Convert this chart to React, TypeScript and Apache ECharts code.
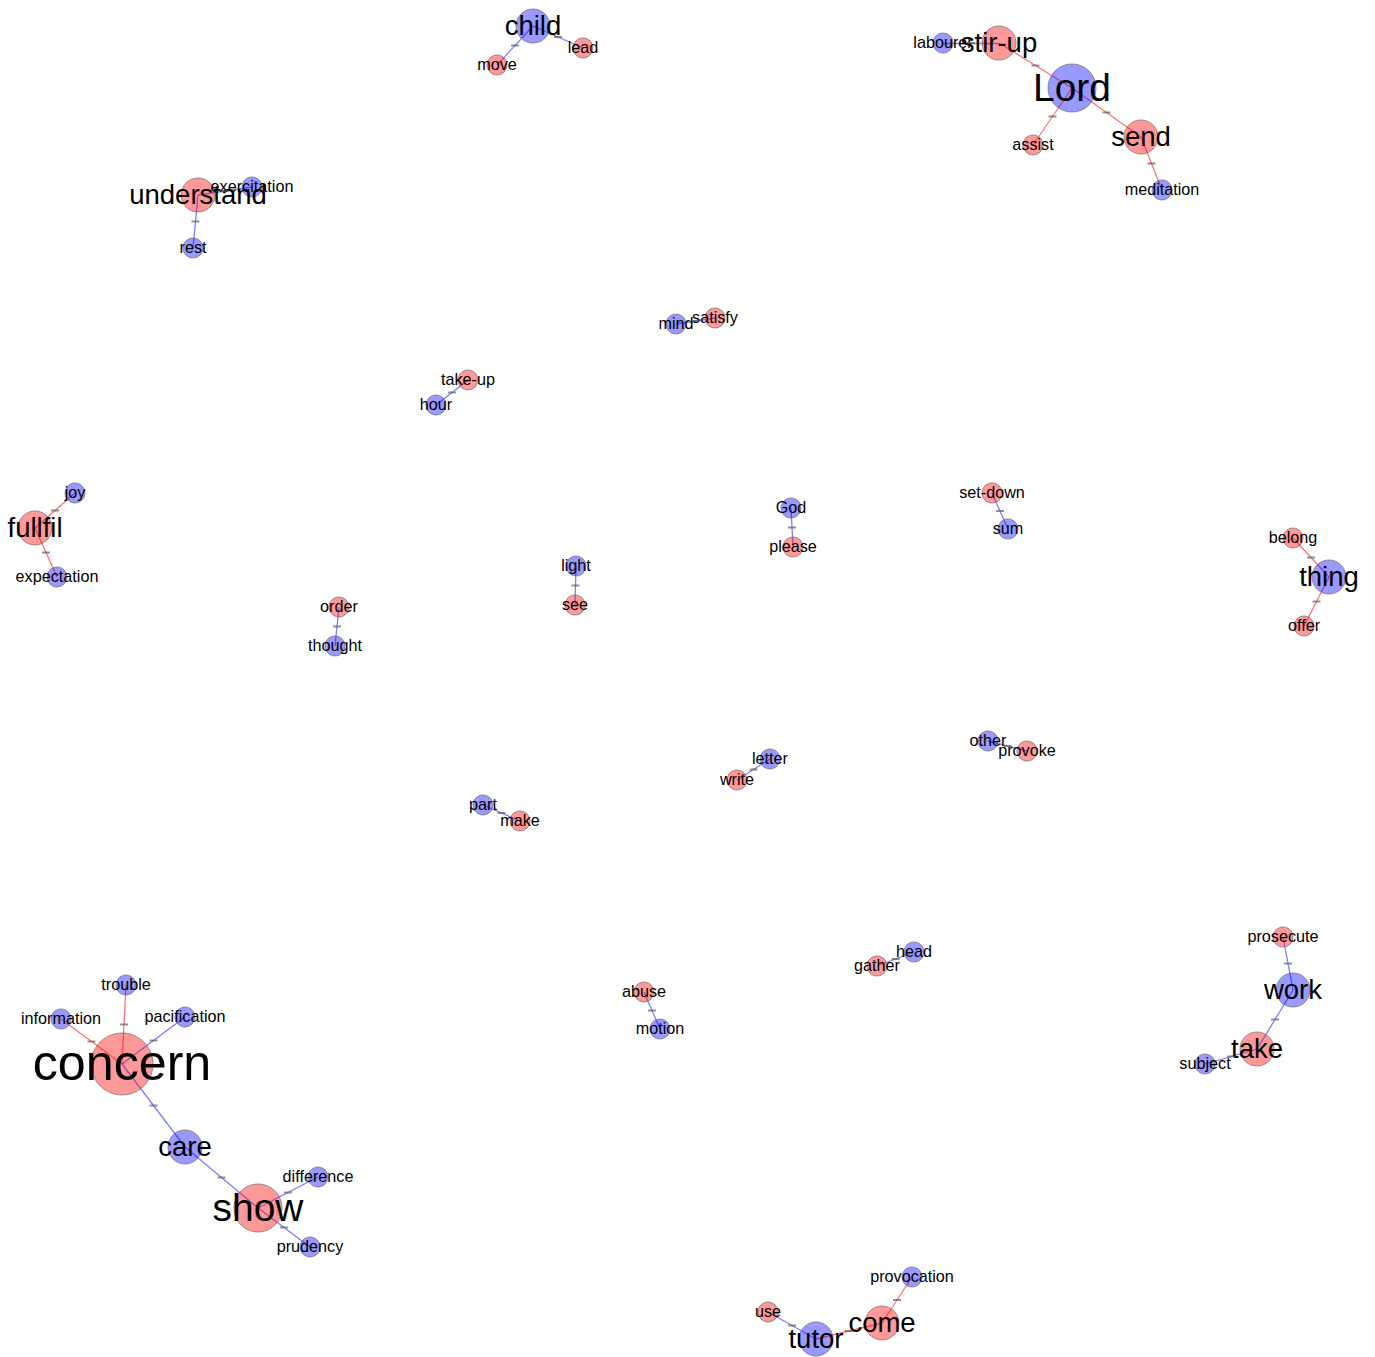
import React, { useEffect, useRef } from "react";
import * as echarts from "echarts";

const nodeNames = [
  "concern", "trouble", "information", "pacification", "care", "show", "difference", "prudency",
  "labourer", "stir-up", "Lord", "assist", "send", "meditation",
  "use", "tutor", "come", "provocation",
  "prosecute", "work", "take", "subject",
  "child", "move", "lead",
  "understand", "exercitation", "rest",
  "fullfil", "joy", "expectation",
  "belong", "thing", "offer",
  "mind", "satisfy", "take-up", "hour", "God", "please", "set-down", "sum",
  "order", "thought", "light", "see", "letter", "write", "other", "provoke",
  "part", "make", "head", "gather", "abuse", "motion",
];
const nodeX = [
  122, 126, 61, 185, 185, 258, 318, 310,
  943, 999, 1072, 1033, 1141, 1162,
  768, 816, 882, 912,
  1283, 1293, 1257, 1205,
  533, 497, 583,
  198, 252, 193,
  35, 75, 57,
  1293, 1329, 1304,
  676, 715, 468, 436, 791, 793, 992, 1008,
  339, 335, 576, 575, 770, 737, 988, 1027,
  483, 520, 914, 877, 644, 660,
];
const nodeY = [
  1064, 985, 1019, 1017, 1147, 1208, 1177, 1247,
  43, 43, 88, 145, 137, 190,
  1312, 1339, 1323, 1277,
  937, 990, 1049, 1064,
  26, 65, 48,
  195, 187, 248,
  528, 493, 577,
  538, 577, 626,
  324, 318, 380, 405, 508, 547, 493, 529,
  607, 646, 566, 605, 759, 780, 741, 751,
  805, 821, 952, 966, 992, 1029,
];
const nodeSizes = [
  62, 20, 20, 20, 34, 48, 20, 20,
  20, 34, 48, 20, 34, 20,
  20, 34, 34, 20,
  20, 34, 34, 20,
  34, 20, 20,
  34, 20, 20,
  34, 20, 20,
  20, 34, 20,
  20, 20, 20, 20, 20, 20, 20, 20,
  20, 20, 20, 20, 20, 20, 20, 20,
  20, 20, 20, 20, 20, 20,
];
// "r" = red group, "b" = blue group
const nodeGroups = [
  "r", "b", "b", "b", "b", "r", "b", "b",
  "b", "r", "b", "r", "r", "b",
  "r", "b", "r", "b",
  "r", "b", "r", "b",
  "b", "r", "r",
  "r", "b", "b",
  "r", "b", "b",
  "r", "b", "r",
  "b", "r", "r", "b", "b", "r", "r", "b",
  "r", "b", "b", "r", "b", "r", "b", "r",
  "b", "r", "b", "r", "r", "b",
];

const linkSources = [
  "trouble", "information", "pacification", "concern", "care", "show", "show",
  "labourer", "stir-up", "Lord", "Lord", "send",
  "use", "tutor", "come",
  "prosecute", "work", "take",
  "child", "child",
  "understand", "understand",
  "fullfil", "fullfil",
  "belong", "thing",
  "mind", "take-up", "God", "set-down", "light", "order", "letter", "other", "part", "head", "abuse",
];
const linkTargets = [
  "concern", "concern", "concern", "care", "show", "difference", "prudency",
  "stir-up", "Lord", "assist", "send", "meditation",
  "tutor", "come", "provocation",
  "work", "take", "subject",
  "move", "lead",
  "exercitation", "rest",
  "joy", "expectation",
  "thing", "offer",
  "satisfy", "hour", "please", "sum", "see", "thought", "write", "provoke", "make", "gather", "motion",
];
const linkGroups = [
  "r", "r", "b", "b", "b", "b", "b",
  "b", "r", "r", "r", "r",
  "b", "r", "r",
  "b", "b", "b",
  "b", "b",
  "b", "b",
  "r", "r",
  "r", "r",
  "b", "b", "b", "b", "b", "b", "b", "b", "b", "b", "b",
];

const FILL: Record<string, string> = { r: "rgba(255,0,0,0.4)", b: "rgba(0,0,255,0.4)" };
const EDGE: Record<string, string> = { r: "rgba(255,40,40,0.65)", b: "rgba(40,40,255,0.6)" };

export default function App() {
  const ref = useRef<HTMLDivElement>(null);
  useEffect(() => {
    document.body.style.margin = "0";
    if (!ref.current) return;
    const chart = echarts.init(ref.current, undefined, { renderer: "svg" });
    const idx: Record<string, number> = {};
    nodeNames.forEach((n, i) => (idx[n] = i));

    const nodes = nodeNames.map((name, i) => ({
      name,
      value: [nodeX[i], nodeY[i]],
      symbolSize: nodeSizes[i],
      itemStyle: {
        color: FILL[nodeGroups[i]],
        borderColor: "rgba(110,110,110,0.7)",
        borderWidth: 1,
      },
      label: {
        show: true,
        position: "inside",
        fontSize: Math.round(nodeSizes[i] * 0.81 * 10) / 10,
        color: "#000",
        offset: [0, -1],
        fontFamily: "Liberation Sans, Arial, sans-serif",
      },
    }));

    const links = linkSources.map((s, i) => ({
      source: s,
      target: linkTargets[i],
      lineStyle: { color: EDGE[linkGroups[i]], width: 1.3, opacity: 1, curveness: 0 },
    }));

    const mids = linkSources.map((s, i) => {
      const a = idx[s];
      const b = idx[linkTargets[i]];
      return [(nodeX[a] + nodeX[b]) / 2, (nodeY[a] + nodeY[b]) / 2];
    });

    chart.setOption({
      animation: false,
      grid: { left: 0, right: 0, top: 0, bottom: 0 },
      xAxis: { type: "value", min: 0, max: 1375, show: false },
      yAxis: { type: "value", min: 0, max: 1357, inverse: true, show: false },
      series: [
        {
          type: "graph",
          coordinateSystem: "cartesian2d",
          data: nodes,
          links,
          symbol: "circle",
          emphasis: { disabled: true },
          z: 2,
        },
        {
          type: "scatter",
          data: mids,
          symbol: "rect",
          symbolSize: [8, 2],
          itemStyle: { color: "rgba(85,85,85,0.8)" },
          silent: true,
          z: 3,
        },
      ],
    });
    return () => chart.dispose();
  }, []);
  return <div ref={ref} style={{ width: 1375, height: 1357 }} />;
}
